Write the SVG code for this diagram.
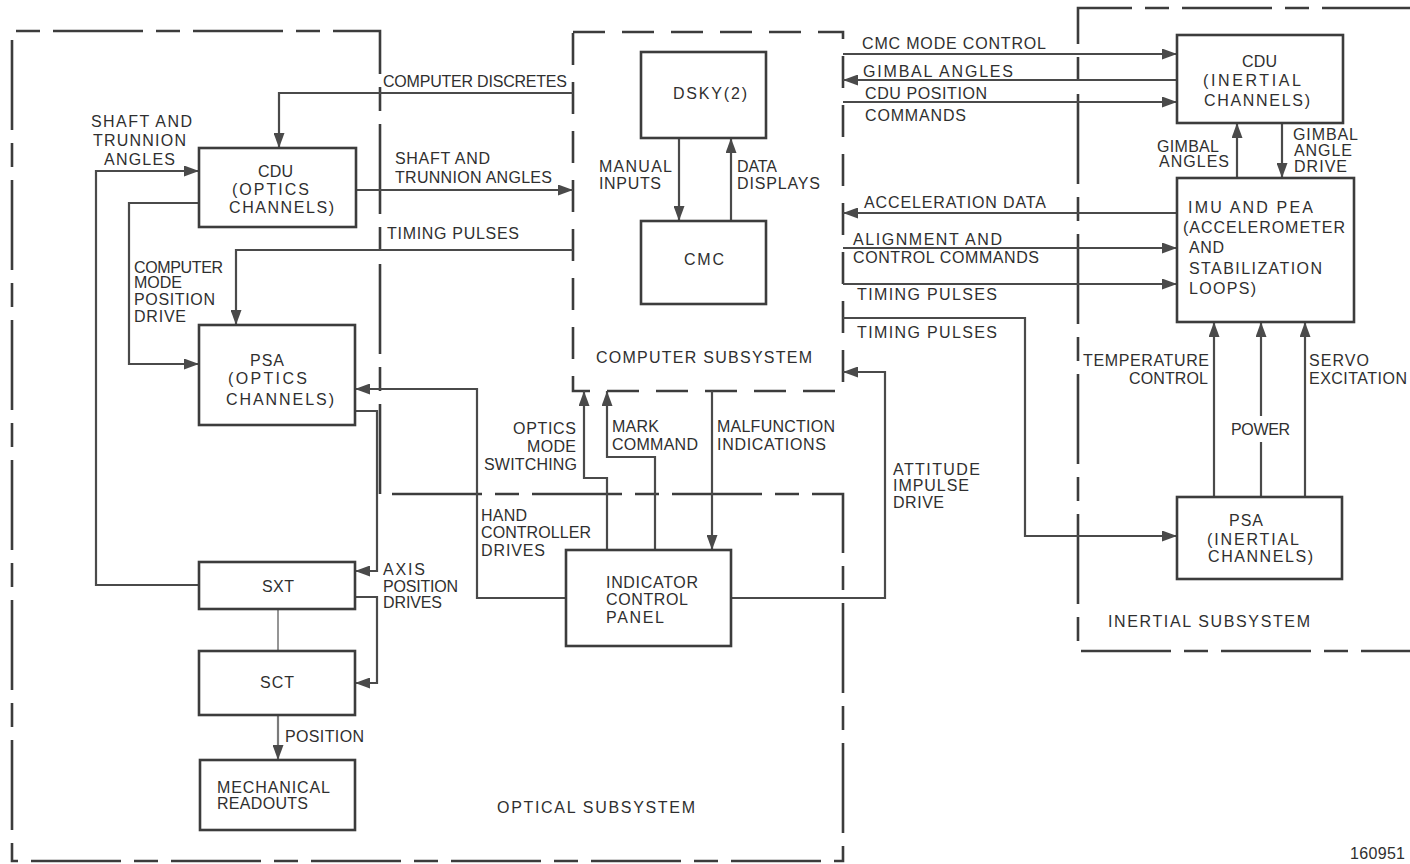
<svg xmlns="http://www.w3.org/2000/svg" width="1410" height="864" viewBox="0 0 1410 864">
<style>
  text { font-family: "Liberation Sans", Arial, sans-serif; font-size: 16px; fill: #2f2f2f; letter-spacing: 1px; }
  .box { fill: none; stroke: #3c3c3c; stroke-width: 2.6; }
  .ln { fill: none; stroke: #4a4a4a; stroke-width: 2.2; }
  .arr { marker-end: url(#ah); }
  .thin { fill: none; stroke: #8a8a8a; stroke-width: 1.8; }
  .bnd { fill: none; stroke: #3c3c3c; stroke-width: 2.6; stroke-dasharray: 90 13 24 13; }
  .bndc { fill: none; stroke: #3c3c3c; stroke-width: 2.6; stroke-dasharray: 32 17; }
</style>
<defs>
  <marker id="ah" markerUnits="userSpaceOnUse" markerWidth="15" markerHeight="11" refX="15" refY="5.5" orient="auto">
    <path d="M0,0 L15,5.5 L0,11 z" fill="#4a4a4a"/>
  </marker>
</defs>
<rect x="0" y="0" width="1410" height="864" fill="#ffffff"/>

<g id="boundaries">
  <path id="optical-subsystem" class="bnd" d="M380,494 V31 H12 V861 H843 V494 Z"/>
  <rect id="computer-subsystem" class="bndc" x="573" y="32" width="270" height="359"/>
  <path id="inertial-subsystem" class="bnd" d="M1412,8 H1078 V651 H1412"/>
  <text x="596" y="363" textLength="217">COMPUTER SUBSYSTEM</text>
  <text x="497" y="813" textLength="199">OPTICAL SUBSYSTEM</text>
  <text x="1108" y="627" textLength="203">INERTIAL SUBSYSTEM</text>
  <text x="1350" y="859" textLength="56">160951</text>
</g>

<g id="connectors">
  <path class="ln arr" d="M573,93 H279 V148"/>
  <path class="ln arr" d="M199,585 H96 V171 H199"/>
  <path class="ln arr" d="M356,190 H573"/>
  <path class="ln arr" d="M573,250 H236 V325"/>
  <path class="ln arr" d="M199,203 H129 V364 H199"/>
  <path class="ln arr" d="M566,598 H477 V389 H355"/>
  <path class="ln arr" d="M355,411 H377 V571 H355"/>
  <path class="ln arr" d="M355,597 H377 V683 H355"/>
  <path class="thin" d="M278,609 V651"/>
  <path class="ln arr" d="M278,715 V760" style="stroke:#7a7a7a"/>
  <path class="ln arr" d="M679,138 V221"/>
  <path class="ln arr" d="M731,221 V138"/>
  <path class="ln arr" d="M607,550 V478 H584 V391"/>
  <path class="ln arr" d="M655,550 V457 H607 V391"/>
  <path class="ln arr" d="M712,391 V550"/>
  <path class="ln arr" d="M731,598 H885 V372 H843"/>
  <path class="ln arr" d="M843,54 H1177"/>
  <path class="ln arr" d="M1177,80 H843"/>
  <path class="ln arr" d="M843,102 H1177"/>
  <path class="ln arr" d="M1177,213 H843"/>
  <path class="ln arr" d="M843,248 H1177"/>
  <path class="ln arr" d="M843,284 H1177"/>
  <path class="ln arr" d="M843,318 H1025 V536 H1177"/>
  <path class="ln arr" d="M1237,178 V123"/>
  <path class="ln arr" d="M1282,123 V178"/>
  <path class="ln arr" d="M1214,497 V322"/>
  <path class="ln" d="M1261,497 V442"/>
  <path class="ln arr" d="M1261,416 V322"/>
  <path class="ln arr" d="M1305,497 V322"/>
</g>

<g id="connector-labels">
  <text x="383" y="87" textLength="185">COMPUTER DISCRETES</text>
  <text x="91" y="127" textLength="102">SHAFT AND</text>
  <text x="93" y="146" textLength="94">TRUNNION</text>
  <text x="104" y="165" textLength="72">ANGLES</text>
  <text x="395" y="164" textLength="96">SHAFT AND</text>
  <text x="395" y="183" textLength="158">TRUNNION ANGLES</text>
  <text x="387" y="239" textLength="133">TIMING PULSES</text>
  <text x="134" y="273" textLength="90">COMPUTER</text>
  <text x="134" y="288" textLength="49">MODE</text>
  <text x="134" y="305" textLength="82">POSITION</text>
  <text x="134" y="322" textLength="53">DRIVE</text>
  <text x="383" y="575" textLength="43">AXIS</text>
  <text x="383" y="592" textLength="76">POSITION</text>
  <text x="383" y="608" textLength="60">DRIVES</text>
  <text x="285" y="742" textLength="80">POSITION</text>
  <text x="599" y="172" textLength="74">MANUAL</text>
  <text x="599" y="189" textLength="63">INPUTS</text>
  <text x="737" y="172" textLength="41">DATA</text>
  <text x="737" y="189" textLength="84">DISPLAYS</text>
  <text x="513" y="434" textLength="64">OPTICS</text>
  <text x="527" y="452" textLength="50">MODE</text>
  <text x="484" y="470" textLength="94">SWITCHING</text>
  <text x="612" y="432" textLength="48">MARK</text>
  <text x="612" y="450" textLength="87">COMMAND</text>
  <text x="717" y="432" textLength="119">MALFUNCTION</text>
  <text x="717" y="450" textLength="110">INDICATIONS</text>
  <text x="481" y="521" textLength="47">HAND</text>
  <text x="481" y="538" textLength="111">CONTROLLER</text>
  <text x="481" y="556" textLength="65">DRIVES</text>
  <text x="893" y="475" textLength="88">ATTITUDE</text>
  <text x="893" y="491" textLength="77">IMPULSE</text>
  <text x="893" y="508" textLength="52">DRIVE</text>
  <text x="862" y="49" textLength="185">CMC MODE CONTROL</text>
  <text x="863" y="77" textLength="151">GIMBAL ANGLES</text>
  <text x="865" y="99" textLength="123">CDU POSITION</text>
  <text x="865" y="121" textLength="102">COMMANDS</text>
  <text x="864" y="208" textLength="183">ACCELERATION DATA</text>
  <text x="853" y="245" textLength="150">ALIGNMENT AND</text>
  <text x="853" y="263" textLength="187">CONTROL COMMANDS</text>
  <text x="857" y="300" textLength="141">TIMING PULSES</text>
  <text x="857" y="338" textLength="141">TIMING PULSES</text>
  <text x="1157" y="152" textLength="63">GIMBAL</text>
  <text x="1159" y="167" textLength="71">ANGLES</text>
  <text x="1293" y="140" textLength="66">GIMBAL</text>
  <text x="1294" y="156" textLength="59">ANGLE</text>
  <text x="1294" y="172" textLength="54">DRIVE</text>
  <text x="1083" y="366" textLength="127">TEMPERATURE</text>
  <text x="1129" y="384" textLength="80">CONTROL</text>
  <text x="1231" y="435" textLength="60">POWER</text>
  <text x="1309" y="366" textLength="61">SERVO</text>
  <text x="1309" y="384" textLength="99">EXCITATION</text>
</g>

<g id="cdu-optics">
  <rect class="box" x="199" y="148" width="157" height="79"/>
  <text x="258" y="177" textLength="36">CDU</text>
  <text x="232" y="195" textLength="78">(OPTICS</text>
  <text x="229" y="213" textLength="106">CHANNELS)</text>
</g>
<g id="psa-optics">
  <rect class="box" x="199" y="325" width="156" height="100"/>
  <text x="250" y="366" textLength="35">PSA</text>
  <text x="228" y="384" textLength="80">(OPTICS</text>
  <text x="226" y="405" textLength="109">CHANNELS)</text>
</g>
<g id="sxt">
  <rect class="box" x="199" y="562" width="156" height="47"/>
  <text x="262" y="592" textLength="33">SXT</text>
</g>
<g id="sct">
  <rect class="box" x="199" y="651" width="156" height="64"/>
  <text x="260" y="688" textLength="35">SCT</text>
</g>
<g id="mechanical-readouts">
  <rect class="box" x="200" y="760" width="155" height="70"/>
  <text x="217" y="793" textLength="114">MECHANICAL</text>
  <text x="217" y="809" textLength="92">READOUTS</text>
</g>
<g id="dsky">
  <rect class="box" x="641" y="52" width="125" height="86"/>
  <text x="673" y="99" textLength="75">DSKY(2)</text>
</g>
<g id="cmc">
  <rect class="box" x="641" y="221" width="125" height="83"/>
  <text x="684" y="265" textLength="41">CMC</text>
</g>
<g id="indicator-control-panel">
  <rect class="box" x="566" y="550" width="165" height="96"/>
  <text x="606" y="588" textLength="93">INDICATOR</text>
  <text x="606" y="605" textLength="83">CONTROL</text>
  <text x="606" y="623" textLength="59">PANEL</text>
</g>
<g id="cdu-inertial">
  <rect class="box" x="1177" y="35" width="166" height="88"/>
  <text x="1242" y="67" textLength="36">CDU</text>
  <text x="1203" y="86" textLength="99">(INERTIAL</text>
  <text x="1204" y="106" textLength="107">CHANNELS)</text>
</g>
<g id="imu-pea">
  <rect class="box" x="1177" y="178" width="177" height="144"/>
  <text x="1188" y="213" textLength="126">IMU AND PEA</text>
  <text x="1183" y="233" textLength="163">(ACCELEROMETER</text>
  <text x="1189" y="253" textLength="36">AND</text>
  <text x="1189" y="274" textLength="134">STABILIZATION</text>
  <text x="1189" y="294" textLength="68">LOOPS)</text>
</g>
<g id="psa-inertial">
  <rect class="box" x="1177" y="497" width="165" height="82"/>
  <text x="1229" y="526" textLength="35">PSA</text>
  <text x="1207" y="545" textLength="93">(INERTIAL</text>
  <text x="1208" y="562" textLength="106">CHANNELS)</text>
</g>
</svg>
